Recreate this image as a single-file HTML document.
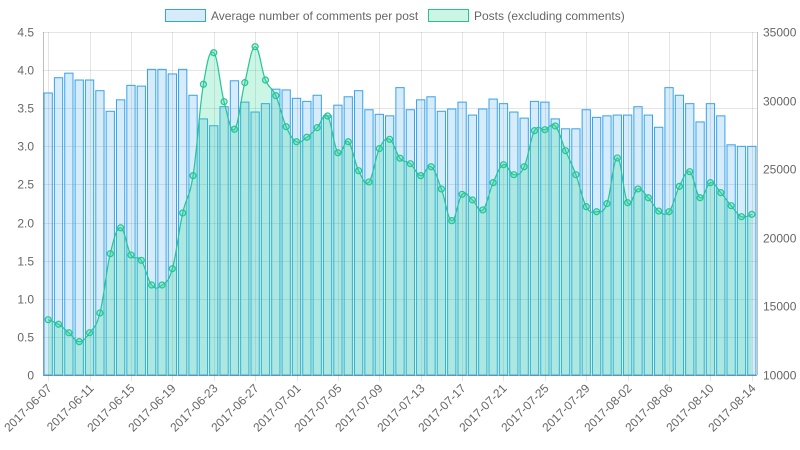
<!DOCTYPE html>
<html><head><meta charset="utf-8"><style>
body{margin:0;background:#fff;}
svg{display:block;font-family:"Liberation Sans",sans-serif;}
</style></head><body>
<svg id="chart" width="800" height="450" xmlns="http://www.w3.org/2000/svg">
<g>
<g><rect x="165.5" y="9.5" width="40" height="12" fill="rgba(54,162,235,0.2)" stroke="rgb(54,162,235)"/><text x="211" y="20" font-size="12" fill="#666">Average number of comments per post</text></g>
<g><rect x="428.5" y="9.5" width="40" height="12" fill="rgba(46,214,150,0.25)" stroke="rgb(38,196,140)"/><text x="474" y="20" font-size="12" fill="#666">Posts (excluding comments)</text></g>
</g>
<g id="grid"></g>
<g id="bars"></g>
<g id="line"></g>
<g id="axes"></g>
</svg>
<script>
const startDate = "2017-06-07";
const comments = [3.70,3.90,3.96,3.87,3.87,3.73,3.46,3.61,3.80,3.79,4.01,4.01,3.95,4.01,3.67,3.36,3.27,3.52,3.86,3.58,3.45,3.56,3.75,3.74,3.63,3.59,3.67,3.40,3.54,3.65,3.73,3.48,3.42,3.40,3.77,3.48,3.61,3.65,3.46,3.49,3.58,3.41,3.49,3.62,3.56,3.45,3.37,3.59,3.58,3.36,3.23,3.23,3.48,3.38,3.40,3.41,3.41,3.52,3.41,3.25,3.77,3.67,3.56,3.32,3.56,3.40,3.02,3.00,3.00];
const posts = [14030,13700,13080,12430,13080,14520,18840,20730,18750,18360,16560,16560,17750,21810,24530,31190,33490,29920,27910,31310,33930,31500,30360,28100,27000,27330,28030,28880,26200,27000,24890,24070,26500,27180,25800,25400,24530,25180,23560,21250,23170,22760,22030,24020,25330,24600,25180,27810,27880,28150,26350,24600,22270,21900,22490,25820,22560,23560,22920,21950,21900,23750,24820,22920,24020,23290,22340,21540,21710];
const leftTicks = ["0","0.5","1.0","1.5","2.0","2.5","3.0","3.5","4.0","4.5"];
const rightTicks = ["10000","15000","20000","25000","30000","35000"];

const NS="http://www.w3.org/2000/svg";
const L=43,R=757,T=32,B=375;
const n=comments.length, band=(R-L)/n;
const xC=i=>L+band*(i+0.5);
const yL=v=>B-(v/4.5)*(B-T);
const yR=v=>B-((v-10000)/25000)*(B-T);
function mk(tag,attrs,parent){const e=document.createElementNS(NS,tag);for(const k in attrs)e.setAttribute(k,attrs[k]);parent.appendChild(e);return e;}
const grid=document.getElementById('grid'),bars=document.getElementById('bars'),line=document.getElementById('line'),axes=document.getElementById('axes');
const labels=[];
for(let i=0;i<n;i++){const d=new Date(startDate+"T00:00:00Z");d.setUTCDate(d.getUTCDate()+i);labels.push(d.toISOString().slice(0,10));}
// horizontal grid + left ticks
leftTicks.forEach((t,k)=>{const y=Math.round(yL(k*0.5))+0.5;
 const g=mk('line',{x1:L,x2:R,y1:y,y2:y,stroke:'rgba(0,0,0,0.1)'},grid);
 
 const tx=mk('text',{x:L-9,y:y+4,'text-anchor':'end','font-size':12,fill:'#666'},axes);tx.textContent=t;
 });
rightTicks.forEach(t=>{const y=Math.round(yR(+t))+0.5;
 const tx=mk('text',{x:R+6,y:y+4,'font-size':12,fill:'#666'},axes);tx.textContent=t;
 });
// vertical grid + x labels
for(let i=0;i<n;i+=4){const x=Math.round(xC(i))+0.5;
 const g=mk('line',{x1:x,x2:x,y1:T,y2:B+6,stroke:'rgba(0,0,0,0.1)'},grid);
 
 const tx=mk('text',{x:x+4,y:B+14,'text-anchor':'end','font-size':12,fill:'#666',transform:`rotate(-45 ${x+4} ${B+14})`},axes);tx.textContent=labels[i];
 }
mk('line',{x1:L+0.5,x2:L+0.5,y1:T,y2:B,stroke:'rgba(0,0,0,0.25)'},axes);
mk('line',{x1:R+0.5,x2:R+0.5,y1:T,y2:B,stroke:'rgba(0,0,0,0.25)'},axes);
mk('line',{x1:L,x2:R,y1:B+0.5,y2:B+0.5,stroke:'rgba(0,0,0,0.25)'},axes);
// bars
const bw=band*0.8;
comments.forEach((v,i)=>{const y=yL(v);
 const r=mk('rect',{x:xC(i)-bw/2,y:y,width:bw,height:B-y,fill:'rgba(54,162,235,0.2)',stroke:'rgb(54,162,235)','stroke-width':1},bars);
 });
// line (cardinal spline)
const pts=posts.map((v,i)=>[xC(i),yR(v)]);
const t=0.4;
let d=`M${pts[0][0]},${pts[0][1]}`;
for(let i=0;i<pts.length-1;i++){const p0=pts[Math.max(0,i-1)],p1=pts[i],p2=pts[i+1],p3=pts[Math.min(pts.length-1,i+2)];
 const c1=[p1[0]+(p2[0]-p0[0])*t/2,p1[1]+(p2[1]-p0[1])*t/2];
 const c2=[p2[0]-(p3[0]-p1[0])*t/2,p2[1]-(p3[1]-p1[1])*t/2];
 d+=` C${c1[0]},${c1[1]} ${c2[0]},${c2[1]} ${p2[0]},${p2[1]}`;}
const area=mk('path',{d:d+` L${pts[pts.length-1][0]},${B} L${pts[0][0]},${B} Z`,fill:'rgba(46,214,150,0.25)',stroke:'none'},line);

const lp=mk('path',{d:d,fill:'none',stroke:'rgb(38,196,150)','stroke-width':1.2},line);

pts.forEach(p=>{const c=mk('circle',{cx:p[0],cy:p[1],r:3,fill:'rgba(46,214,150,0.3)',stroke:'rgb(38,196,150)','stroke-width':1.2},line);
 });
</script>
</body></html>
